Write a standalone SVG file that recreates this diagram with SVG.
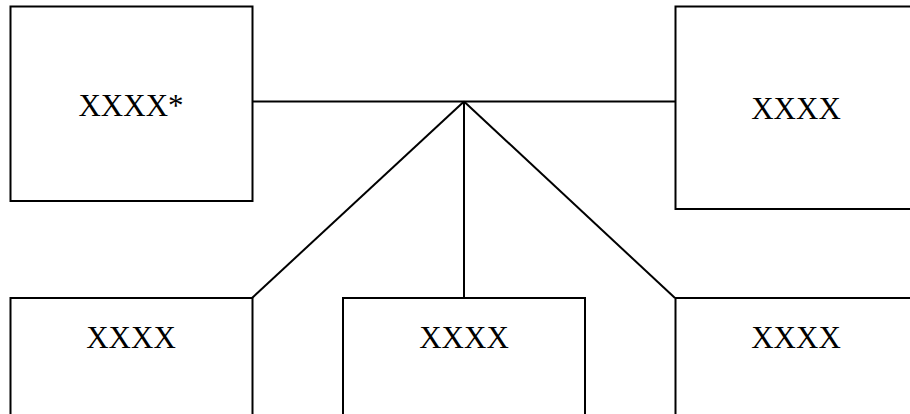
<svg xmlns="http://www.w3.org/2000/svg" width="910" height="414" viewBox="0 0 910 414">
<style>
.box{fill:#fff;stroke:#000;stroke-width:2}
.lbl{font-family:"Liberation Serif","Times New Roman",serif;font-size:31px;fill:#000;text-anchor:middle}
.con{stroke:#000;stroke-width:2;fill:none}
</style>
<rect width="910" height="414" fill="#fff"/>
<g id="connectors">
<line class="con" x1="252" y1="101.5" x2="675" y2="101.5"/>
<line class="con" x1="464" y1="101.5" x2="252" y2="298"/>
<line class="con" x1="464" y1="101.5" x2="464" y2="298"/>
<line class="con" x1="464" y1="101.5" x2="675" y2="298"/>
</g>
<g id="node-top-left">
<rect class="box" x="10.5" y="6.5" width="242" height="194.5"/>
<text class="lbl" x="131" y="116">XXXX*</text>
</g>
<g id="node-top-right">
<rect class="box" x="675.5" y="6.5" width="242" height="202.5"/>
<text class="lbl" x="796" y="119">XXXX</text>
</g>
<g id="node-bottom-left">
<rect class="box" x="10.5" y="298" width="242" height="130"/>
<text class="lbl" x="131" y="348">XXXX</text>
</g>
<g id="node-bottom-middle">
<rect class="box" x="343" y="298" width="242" height="130"/>
<text class="lbl" x="464" y="348">XXXX</text>
</g>
<g id="node-bottom-right">
<rect class="box" x="675.5" y="298" width="242" height="130"/>
<text class="lbl" x="796" y="348">XXXX</text>
</g>
</svg>
